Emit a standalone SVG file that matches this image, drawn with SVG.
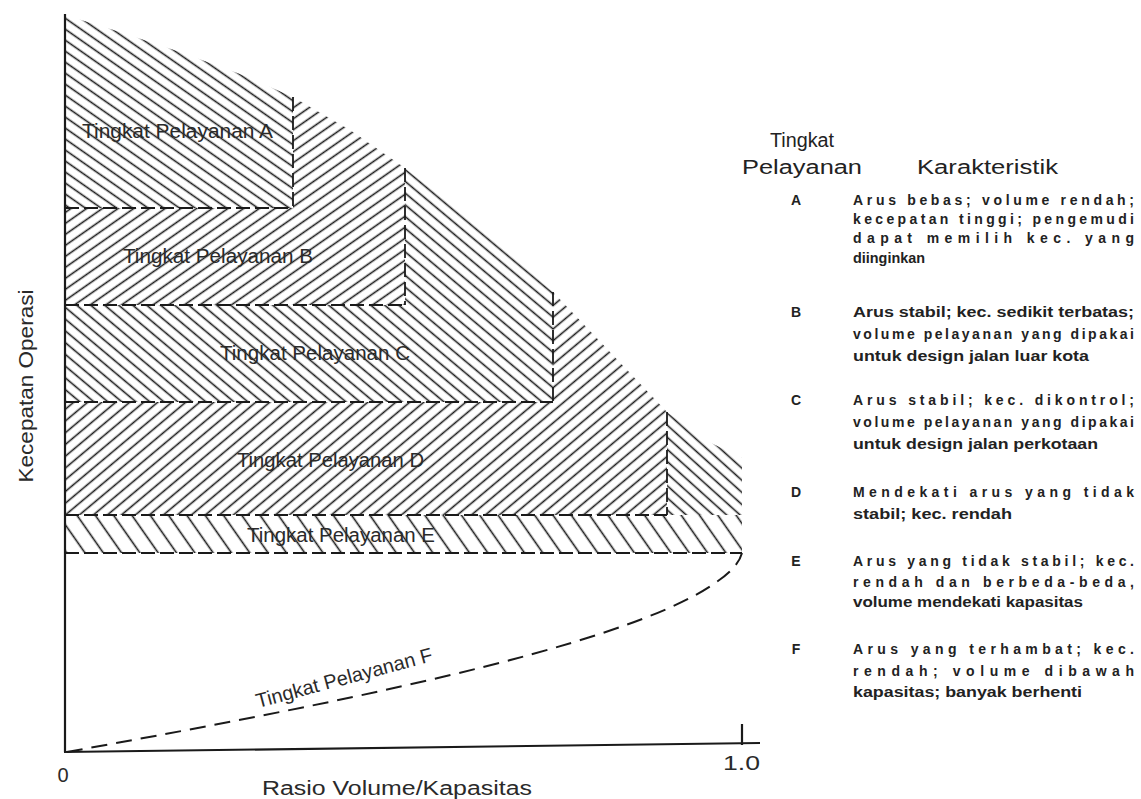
<svg xmlns="http://www.w3.org/2000/svg" width="1141" height="799" viewBox="0 0 1141 799">
<style>
.lbl{font-family:"Liberation Sans",Arial,sans-serif;font-size:20px;fill:#2a2a2a}
.hdr{font-family:"Liberation Sans",Arial,sans-serif;font-size:20px;fill:#222}
.body{font-family:"Liberation Sans",Arial,sans-serif;font-size:14px;font-weight:bold;fill:#222}
.let{font-family:"Liberation Sans",Arial,sans-serif;font-size:14px;font-weight:bold;fill:#222;text-anchor:middle}
.dash{fill:none;stroke:#1a1a1a;stroke-width:1.8;stroke-dasharray:14 5}
.axis{fill:none;stroke:#1a1a1a;stroke-width:2.2}
</style>
<defs>
<pattern id="hA" width="9" height="9" patternUnits="userSpaceOnUse" patternTransform="rotate(35)"><line x1="0" y1="4.5" x2="9" y2="4.5" stroke="#1a1a1a" stroke-width="1.6"/></pattern>
<pattern id="hB" width="9" height="9" patternUnits="userSpaceOnUse" patternTransform="rotate(-35)"><line x1="0" y1="4.5" x2="9" y2="4.5" stroke="#1a1a1a" stroke-width="1.6"/></pattern>
<pattern id="hC" width="9" height="9" patternUnits="userSpaceOnUse" patternTransform="rotate(40)"><line x1="0" y1="4.5" x2="9" y2="4.5" stroke="#1a1a1a" stroke-width="1.6"/></pattern>
<pattern id="hD" width="9" height="9" patternUnits="userSpaceOnUse" patternTransform="rotate(-40)"><line x1="0" y1="4.5" x2="9" y2="4.5" stroke="#1a1a1a" stroke-width="1.6"/></pattern>
<pattern id="hE" width="9" height="9" patternUnits="userSpaceOnUse" patternTransform="rotate(42)"><line x1="0" y1="4.5" x2="9" y2="4.5" stroke="#1a1a1a" stroke-width="1.6"/></pattern>
<pattern id="hE2" width="15" height="15" patternUnits="userSpaceOnUse" patternTransform="rotate(55)"><line x1="0" y1="7.5" x2="15" y2="7.5" stroke="#1a1a1a" stroke-width="1.6"/></pattern>
</defs>
<rect width="1141" height="799" fill="#fff"/>

<g id="los-A">
<polygon points="65,15 120,32 180,52 240,74 293,97 293,208 65,208" fill="url(#hA)"/>
<text class="lbl" x="82" y="138" textLength="191" lengthAdjust="spacingAndGlyphs">Tingkat Pelayanan A</text>
</g>
<g id="los-B">
<polygon points="65,208 293,208 293,97 350,130 405,168 405,305 65,305" fill="url(#hB)"/>
<text class="lbl" x="123" y="263" textLength="190" lengthAdjust="spacingAndGlyphs">Tingkat Pelayanan B</text>
</g>
<g id="los-C">
<polygon points="65,305 405,305 405,168 480,228 553,292 553,402 65,402" fill="url(#hC)"/>
<text class="lbl" x="220" y="360" textLength="190" lengthAdjust="spacingAndGlyphs">Tingkat Pelayanan C</text>
</g>
<g id="los-D">
<polygon points="65,402 553,402 553,292 610,352 667,412 667,515 65,515" fill="url(#hD)"/>
<text class="lbl" x="237" y="467" textLength="187" lengthAdjust="spacingAndGlyphs">Tingkat Pelayanan D</text>
</g>
<g id="los-E">
<polygon points="667,515 667,412 705,440 742,458 742,515" fill="url(#hE)"/>
<polygon points="65,515 742,515 742,553 65,553" fill="url(#hE2)"/>
<text class="lbl" x="247" y="542" textLength="188" lengthAdjust="spacingAndGlyphs">Tingkat Pelayanan E</text>
</g>

<g id="connectors">
<line class="dash" x1="65" y1="208" x2="293" y2="208"/>
<line class="dash" x1="65" y1="305" x2="405" y2="305"/>
<line class="dash" x1="65" y1="402" x2="553" y2="402"/>
<line class="dash" x1="65" y1="515" x2="667" y2="515"/>
<line class="dash" x1="65" y1="553" x2="742" y2="553" stroke-dasharray="30 6"/>
<line class="dash" x1="293" y1="97" x2="293" y2="208"/>
<line class="dash" x1="405" y1="168" x2="405" y2="305"/>
<line class="dash" x1="553" y1="292" x2="553" y2="402"/>
<line class="dash" x1="667" y1="412" x2="667" y2="515"/>
<path d="M67,752 C300,710 620,650 715,583 Q738,568 742,553" fill="none" stroke="#1a1a1a" stroke-width="2" stroke-dasharray="16 9"/>
</g>

<g id="los-F">
<text class="lbl" transform="translate(258,708) rotate(-15)" textLength="182" lengthAdjust="spacingAndGlyphs">Tingkat Pelayanan F</text>
</g>

<g id="axes">
<line class="axis" x1="65" y1="14" x2="65" y2="752"/>
<line class="axis" x1="64" y1="752" x2="760" y2="743"/>
<line class="axis" x1="742" y1="724" x2="742" y2="745"/>
<text class="lbl" x="63" y="782" text-anchor="middle">0</text>
<text class="lbl" x="723" y="770" textLength="37" lengthAdjust="spacingAndGlyphs">1.0</text>
<text class="lbl" x="262" y="795" textLength="270" lengthAdjust="spacingAndGlyphs">Rasio Volume/Kapasitas</text>
<text class="lbl" transform="translate(33,386) rotate(-90)" text-anchor="middle" textLength="193" lengthAdjust="spacingAndGlyphs">Kecepatan Operasi</text>
</g>

<g id="legend-header">
<text class="hdr" x="770" y="147" textLength="64" lengthAdjust="spacingAndGlyphs">Tingkat</text>
<text class="hdr" x="742" y="174" textLength="120" lengthAdjust="spacingAndGlyphs">Pelayanan</text>
<text class="hdr" x="917" y="174" textLength="141" lengthAdjust="spacingAndGlyphs">Karakteristik</text>
</g>

<g id="legend-A">
<text class="let" x="796" y="205">A</text>
<text class="body" x="853" y="205" textLength="281" lengthAdjust="spacing">Arus bebas; volume rendah;</text>
<text class="body" x="853" y="224" textLength="281" lengthAdjust="spacing">kecepatan tinggi; pengemudi</text>
<text class="body" x="853" y="243" textLength="281" lengthAdjust="spacing">dapat memilih kec. yang</text>
<text class="body" x="853" y="263" textLength="72" lengthAdjust="spacingAndGlyphs">diinginkan</text>
</g>
<g id="legend-B">
<text class="let" x="796" y="317">B</text>
<text class="body" x="853" y="317" textLength="281" lengthAdjust="spacingAndGlyphs">Arus stabil; kec. sedikit terbatas;</text>
<text class="body" x="853" y="339" textLength="281" lengthAdjust="spacing">volume pelayanan yang dipakai</text>
<text class="body" x="853" y="361" textLength="236" lengthAdjust="spacingAndGlyphs">untuk design jalan luar kota</text>
</g>
<g id="legend-C">
<text class="let" x="796" y="405">C</text>
<text class="body" x="853" y="405" textLength="281" lengthAdjust="spacing">Arus stabil; kec. dikontrol;</text>
<text class="body" x="853" y="427" textLength="281" lengthAdjust="spacing">volume pelayanan yang dipakai</text>
<text class="body" x="853" y="449" textLength="245" lengthAdjust="spacingAndGlyphs">untuk design jalan perkotaan</text>
</g>
<g id="legend-D">
<text class="let" x="796" y="497">D</text>
<text class="body" x="853" y="497" textLength="281" lengthAdjust="spacing">Mendekati arus yang tidak</text>
<text class="body" x="853" y="519" textLength="159" lengthAdjust="spacingAndGlyphs">stabil; kec. rendah</text>
</g>
<g id="legend-E">
<text class="let" x="796" y="566">E</text>
<text class="body" x="853" y="566" textLength="281" lengthAdjust="spacing">Arus yang tidak stabil; kec.</text>
<text class="body" x="853" y="587" textLength="281" lengthAdjust="spacing">rendah dan berbeda-beda,</text>
<text class="body" x="853" y="607" textLength="230" lengthAdjust="spacingAndGlyphs">volume mendekati kapasitas</text>
</g>
<g id="legend-F">
<text class="let" x="796" y="654">F</text>
<text class="body" x="853" y="654" textLength="281" lengthAdjust="spacing">Arus yang terhambat; kec.</text>
<text class="body" x="853" y="676" textLength="281" lengthAdjust="spacing">rendah; volume dibawah</text>
<text class="body" x="853" y="697" textLength="229" lengthAdjust="spacingAndGlyphs">kapasitas; banyak berhenti</text>
</g>
</svg>
